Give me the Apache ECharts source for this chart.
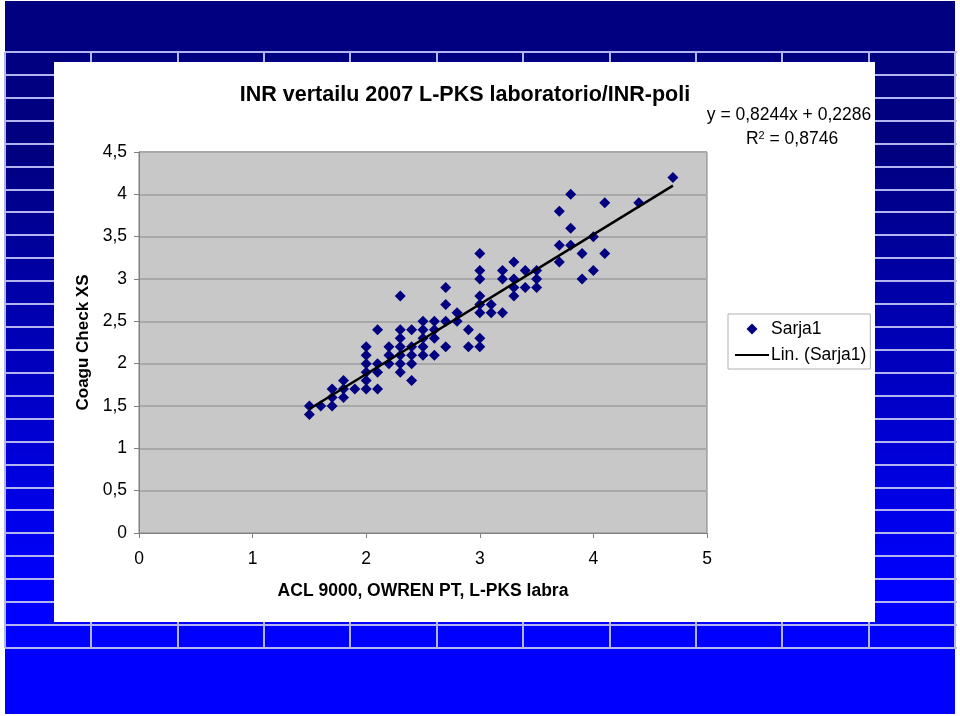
<!DOCTYPE html>
<html>
<head>
<meta charset="utf-8">
<script src="https://cdn.jsdelivr.net/npm/echarts@6/dist/echarts.min.js"></script>
<style>
html,body{margin:0;padding:0;background:#fff;}
#wrap{position:relative;width:960px;height:716px;overflow:hidden;background:#fff;}
#bg{position:absolute;left:5px;top:1px;width:950px;height:713px;
 background:linear-gradient(to bottom,#000080 0px,#000080 150px,#0000FF 590px,#0000FF 713px);}
.hl{position:absolute;height:2px;background:#B4B4F0;}
.vl{position:absolute;width:2px;background:#B4B4F0;}
#box{position:absolute;left:54px;top:62px;width:821px;height:560px;background:#fff;}
#chart{position:absolute;left:0;top:0;width:960px;height:716px;}
</style>
</head>
<body>
<div id="wrap">
  <div id="bg"></div>
  <div id="box"></div>
  <div id="chart"></div>
</div>
<script>
// ---- data ----
const xValues = [
 1.5,1.5,
 1.6,
 1.7,1.7,1.7,
 1.8,1.8,1.8,
 1.9,
 2.0,2.0,2.0,2.0,2.0,2.0,
 2.1,2.1,2.1,2.1,
 2.2,2.2,2.2,
 2.3,2.3,2.3,2.3,2.3,2.3,2.3,
 2.4,2.4,2.4,2.4,2.4,
 2.5,2.5,2.5,2.5,2.5,
 2.6,2.6,2.6,2.6,
 2.7,2.7,2.7,2.7,
 2.8,2.8,
 2.9,2.9,
 3.0,3.0,3.0,3.0,3.0,3.0,3.0,3.0,
 3.1,3.1,
 3.2,3.2,3.2,
 3.3,3.3,3.3,3.3,
 3.4,3.4,
 3.5,3.5,3.5,
 3.7,3.7,3.7,
 3.8,3.8,3.8,
 3.9,3.9,
 4.0,4.0,
 4.1,4.1,
 4.4,
 4.7
];
const yValues = [
 1.5,1.4,
 1.5,
 1.5,1.6,1.7,
 1.6,1.7,1.8,
 1.7,
 1.7,1.8,1.9,2.0,2.1,2.2,
 1.7,1.9,2.0,2.4,
 2.0,2.1,2.2,
 1.9,2.0,2.1,2.2,2.3,2.4,2.8,
 1.8,2.0,2.1,2.2,2.4,
 2.1,2.2,2.3,2.4,2.5,
 2.1,2.3,2.4,2.5,
 2.2,2.5,2.7,2.9,
 2.5,2.6,
 2.2,2.4,
 2.2,2.3,2.6,2.7,2.8,3.0,3.1,3.3,
 2.6,2.7,
 2.6,3.0,3.1,
 2.8,2.9,3.0,3.2,
 2.9,3.1,
 2.9,3.0,3.1,
 3.2,3.4,3.8,
 3.4,3.6,4.0,
 3.0,3.3,
 3.1,3.5,
 3.3,3.9,
 3.9,
 4.2
];
const trendSlope = 0.8244;
const trendIntercept = 0.2286;
const rSquared = '0,8746';
const yTicks = [0, 0.5, 1, 1.5, 2, 2.5, 3, 3.5, 4, 4.5];
const xTicks = [0, 1, 2, 3, 4, 5];
const titleText = 'INR vertailu 2007 L-PKS laboratorio/INR-poli';
const xName = 'ACL 9000, OWREN PT, L-PKS labra';
const yName = 'Coagu Check XS';
const seriesName = 'Sarja1';
const trendName = 'Lin. (Sarja1)';

// ---- decorative slide background grid ----
(function(){
  const wrap = document.getElementById('wrap');
  const box = document.getElementById('box');
  const top = 52, bottom = 648, left = 5, right = 955;
  for (let k = 0; k <= 26; k++) {
    const d = document.createElement('div');
    d.className = 'hl';
    d.style.left = left + 'px';
    d.style.width = (right - left + 2) + 'px';
    d.style.top = Math.round(top + k * (bottom - top) / 26 - 1) + 'px';
    wrap.insertBefore(d, box);
  }
  for (let k = 0; k <= 11; k++) {
    const d = document.createElement('div');
    d.className = 'vl';
    d.style.left = Math.round(left + k * (right - left) / 11 - 1) + 'px';
    d.style.top = top + 'px';
    d.style.height = (bottom - top) + 'px';
    wrap.insertBefore(d, box);
  }
})();

const fmt = v => String(v).replace('.', ',');
const points = xValues.map((x, i) => [x, yValues[i]]);
const xMin = Math.min.apply(null, xValues), xMax = Math.max.apply(null, xValues);
const trendData = [[xMin, trendSlope * xMin + trendIntercept], [xMax, trendSlope * xMax + trendIntercept]];
const eqText = 'y = ' + fmt(trendSlope) + 'x + ' + fmt(trendIntercept);

const FONT = '"Liberation Sans", Arial, sans-serif';
const chart = echarts.init(document.getElementById('chart'), null, {renderer: 'canvas'});
chart.setOption({
  backgroundColor: 'transparent',
  animation: false,
  textStyle: {fontFamily: FONT},
  title: [
    {text: titleText, left: 460, top: 79, textAlign: 'center',
     textStyle: {fontFamily: FONT, fontSize: 21.5, fontWeight: 'bold', color: '#000'}},
    {text: eqText, left: 784, top: 101, textAlign: 'center',
     textStyle: {fontFamily: FONT, fontSize: 17.5, fontWeight: 'normal', color: '#000'}},
    {text: 'R{sup|2} = ' + rSquared, left: 787, top: 125, textAlign: 'center',
     textStyle: {fontFamily: FONT, fontSize: 17.5, fontWeight: 'normal', color: '#000',
       rich: {sup: {fontFamily: FONT, fontSize: 11, verticalAlign: 'top', padding: [0,0,8,0], color: '#000'}}}}
  ],
  legend: {
    left: 728, top: 314, orient: 'vertical',
    padding: [6, 4, 5, 6],
    borderColor: '#B0B0B0', borderWidth: 1,
    itemWidth: 34, itemHeight: 12, itemGap: 8,
    textStyle: {fontFamily: FONT, fontSize: 17.5, color: '#000', padding: [0,0,0,-3]},
    data: [
      {name: seriesName, icon: 'path://M0,0M34,12M17,0.5L22.5,6L17,11.5L11.5,6Z'},
      {name: trendName}
    ]
  },
  grid: {left: 139, right: 253, top: 152, bottom: 183, show: true,
    backgroundColor: '#C8C8C8', borderColor: '#808080', borderWidth: 1},
  xAxis: {
    type: 'value', min: xTicks[0], max: xTicks[xTicks.length - 1], interval: 1,
    name: xName, nameLocation: 'middle', nameGap: 49,
    nameTextStyle: {fontFamily: FONT, fontSize: 17.5, fontWeight: 'bold', color: '#000'},
    axisLine: {show: true, lineStyle: {color: '#808080', width: 1}},
    axisTick: {show: true, length: 5, lineStyle: {color: '#808080'}},
    splitLine: {show: false},
    axisLabel: {fontFamily: FONT, fontSize: 17.5, color: '#000', margin: 17, formatter: v => fmt(v)}
  },
  yAxis: {
    type: 'value', min: yTicks[0], max: yTicks[yTicks.length - 1], interval: 0.5,
    name: yName, nameLocation: 'middle', nameGap: 45, nameRotate: 90,
    nameTextStyle: {fontFamily: FONT, fontSize: 17, fontWeight: 'bold', color: '#000'},
    axisLine: {show: true, lineStyle: {color: '#808080', width: 1}},
    axisTick: {show: true, length: 5, lineStyle: {color: '#808080'}},
    splitLine: {show: true, lineStyle: {color: '#A8A8A8', width: 2}},
    axisLabel: {fontFamily: FONT, fontSize: 17.5, color: '#000', margin: 12, formatter: v => fmt(v)}
  },
  series: [
    {name: seriesName, type: 'scatter', data: points, symbol: 'diamond', symbolSize: [11, 11],
     symbolKeepAspect: true,
     itemStyle: {color: '#000080', opacity: 1}, z: 3},
    {name: trendName, type: 'line', data: trendData, symbol: 'none', showSymbol: false,
     itemStyle: {color: 'rgba(0,0,0,0)'},
     lineStyle: {color: '#000', width: 2.5}, z: 4, silent: true}
  ]
});
</script>
</body>
</html>
